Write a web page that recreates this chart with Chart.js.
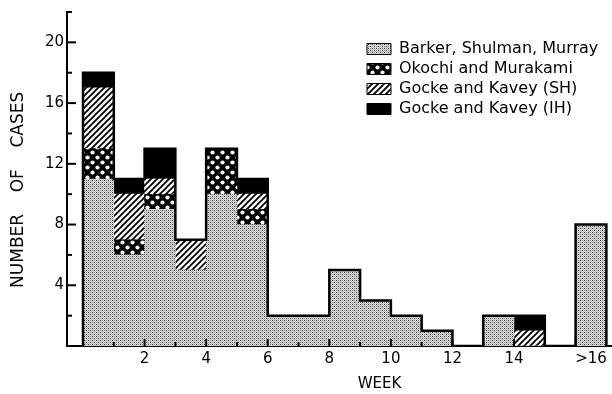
<!DOCTYPE html>
<html><head><meta charset="utf-8">
<script src="https://cdn.jsdelivr.net/npm/chart.js@4.4.1/dist/chart.umd.min.js"></script>
<style>html,body{margin:0;padding:0;background:#fff}canvas{display:block}</style>
</head><body>
<canvas id="c" width="612" height="394"></canvas>
<script>
// ---- data (bin start week; last bin is ">16") ----
const binStarts = [0,1,2,3,4,5,6,7,8,9,10,11,12,13,14,15,16];
const barker    = [11,6,9,5,10,8,2,2,5,3,2,1,0,2,0,0,8];
const okochi    = [2,1,1,0,3,1,0,0,0,0,0,0,0,0,0,0,0];
const gockeSH   = [4,3,1,2,0,1,0,0,0,0,0,0,0,0,1,0,0];
const gockeIH   = [1,1,2,0,0,1,0,0,0,0,0,0,0,0,1,0,0];
const seriesNames = ['Barker, Shulman, Murray','Okochi and Murakami','Gocke and Kavey (SH)','Gocke and Kavey (IH)'];
const xTickWeeks  = [2,4,6,8,10,12,14];
const xTickLabels = ['2','4','6','8','10','12','14'];
const overflowLabel = '>16';
const yTickLabels = [4,8,12,16,20];

const canvas = document.getElementById('c');
const ctx = canvas.getContext('2d');

function makePattern(w, h, draw) {
  const t = document.createElement('canvas');
  t.width = w; t.height = h;
  const g = t.getContext('2d');
  draw(g, w, h);
  return ctx.createPattern(t, 'repeat');
}
const stipple = makePattern(4, 4, (g) => {
  g.fillStyle = '#e4e4e4'; g.fillRect(0, 0, 4, 4);
  g.fillStyle = '#333333'; g.fillRect(0, 0, 1, 1); g.fillRect(2, 2, 1, 1);
  g.fillStyle = '#7a7a7a'; g.fillRect(2, 0, 1, 1); g.fillRect(0, 2, 1, 1);
  g.fillStyle = '#bbbbbb'; g.fillRect(1, 1, 1, 1); g.fillRect(3, 3, 1, 1); g.fillRect(1, 3, 1, 1); g.fillRect(3, 1, 1, 1);
});
const cross = makePattern(10, 10, (g) => {
  g.fillStyle = '#000'; g.fillRect(0, 0, 10, 10);
  g.fillStyle = '#fff';
  [[2.5,2.5],[7.5,7.5]].forEach(([cx,cy]) => { g.beginPath(); g.arc(cx, cy, 2.1, 0, Math.PI*2); g.fill(); });
});
const hatch = makePattern(6, 6, (g) => {
  g.fillStyle = '#fff'; g.fillRect(0, 0, 6, 6);
  g.strokeStyle = '#000'; g.lineWidth = 1.8;
  g.beginPath();
  g.moveTo(0, 6); g.lineTo(6, 0);
  g.moveTo(-1, 1); g.lineTo(1, -1);
  g.moveTo(5, 7); g.lineTo(7, 5);
  g.stroke();
});
const fills = [stipple, cross, hatch, '#000'];
const seriesValues = [barker, okochi, gockeSH, gockeIH];

const totals = binStarts.map((_, i) => seriesValues.reduce((s, arr) => s + arr[i], 0));
const outline = [{x: binStarts[0], y: 0}];
binStarts.forEach((s, i) => { outline.push({x: s, y: totals[i]}); outline.push({x: s + 1, y: totals[i]}); });
outline.push({x: binStarts[binStarts.length - 1] + 1, y: 0});

const barSets = seriesValues.map((arr, k) => ({
  type: 'bar',
  label: seriesNames[k],
  data: binStarts.map((s, i) => ({x: s + 0.5, y: arr[i]})),
  backgroundColor: fills[k],
  borderWidth: 0,
  barPercentage: 1,
  categoryPercentage: 1,
  order: 1
}));
const outlineSet = {
  type: 'line', label: 'outline', data: outline, stack: 'outline',
  borderColor: '#000', borderWidth: 2.5, pointRadius: 0, fill: false,
  tension: 0, borderJoinStyle: 'miter', order: 0
};

const inwardTicks = {
  id: 'inwardTicks',
  afterDatasetsDraw(chart) {
    const {ctx, scales: {x, y}} = chart;
    ctx.save(); ctx.strokeStyle = '#000'; ctx.lineWidth = 2;
    y.ticks.forEach(t => {
      if (t.value <= 0) return;
      const py = y.getPixelForValue(t.value);
      const len = t.value % 4 === 0 ? 9 : 5;
      ctx.beginPath(); ctx.moveTo(y.right, py); ctx.lineTo(y.right + len, py); ctx.stroke();
    });
    x.ticks.forEach(t => {
      if (t.value <= 0 || t.value > 16) return;
      const px = x.getPixelForValue(t.value);
      const len = t.value % 2 === 0 ? 7 : 4;
      ctx.beginPath(); ctx.moveTo(px, x.top); ctx.lineTo(px, x.top - len); ctx.stroke();
    });
    ctx.restore();
  }
};
const legendPlace = {
  id: 'legendPlace',
  afterLayout(chart) {
    const lg = chart.legend; if (!lg) return;
    const w = lg.width;
    lg.left = 363; lg.right = 363 + w; lg.top = 37; lg.bottom = chart.chartArea.bottom;
  }
};

Chart.defaults.font.family = '"DejaVu Sans", sans-serif';
Chart.defaults.color = '#000';
const xMin = -0.52, xMax = 17.15;
const blankGrid = {display: false, drawTicks: false};

new Chart(ctx, {
  data: {datasets: [...barSets, outlineSet]},
  options: {
    responsive: false, animation: false, devicePixelRatio: 1,
    layout: {padding: {top: 10, right: 1, left: 0, bottom: 0}},
    plugins: {
      tooltip: {enabled: false},
      legend: {
        position: 'chartArea', align: 'start',
        labels: {
          boxWidth: 24, boxHeight: 11, padding: 4, color: '#000',
          font: {size: 16},
          filter: (item) => item.datasetIndex < 4,
          generateLabels(chart) {
            return Chart.defaults.plugins.legend.labels.generateLabels(chart).map(it => Object.assign(it, {lineWidth: 1, strokeStyle: '#000'}));
          }
        }
      }
    },
    scales: {
      x: {
        type: 'linear', position: 'bottom', min: xMin, max: xMax, stacked: true, weight: 0, offset: false,
        ticks: {display: false, stepSize: 1, includeBounds: false},
        grid: {display: false, drawTicks: false, offset: false}, border: {display: true, color: '#000', width: 2},
        afterFit(s) { s.height = 0; }
      },
      x2: {
        type: 'linear', position: 'bottom', min: xMin, max: xMax, weight: 1, offset: false,
        afterBuildTicks(s) {
          s.ticks = xTickWeeks.map(v => ({value: v})).concat([{value: binStarts[binStarts.length - 1] + 0.5}]);
        },
        ticks: {
          autoSkip: false, maxRotation: 0, padding: 4, font: {size: 15}, color: '#000',
          callback: (v, i) => (i < xTickLabels.length ? xTickLabels[i] : overflowLabel)
        },
        grid: blankGrid, border: {display: false},
        afterFit(s) { s.height = 24; }
      },
      x3: {
        type: 'linear', position: 'bottom', min: xMin, max: xMax, weight: 2, offset: false,
        afterBuildTicks(s) { s.ticks = [{value: 9.63}]; },
        ticks: {autoSkip: false, maxRotation: 0, padding: 5, font: {size: 15}, color: '#000', callback: () => 'WEEK'},
        grid: blankGrid, border: {display: false},
        afterFit(s) { s.height = 24; }
      },
      y: {
        type: 'linear', min: 0, max: 22, stacked: true,
        ticks: {stepSize: 2, includeBounds: false, padding: 3, font: {size: 15}, color: '#000',
          callback: (v) => (yTickLabels.includes(v) ? String(v) : '')},
        grid: blankGrid, border: {display: true, color: '#000', width: 2},
        title: {display: true, text: 'NUMBER    OF    CASES    ', font: {size: 17}, color: '#000', padding: {top: 8, bottom: 0}},
        afterFit(s) { s.width = 67; }
      }
    }
  },
  plugins: [inwardTicks, legendPlace]
});
</script>
</body></html>
